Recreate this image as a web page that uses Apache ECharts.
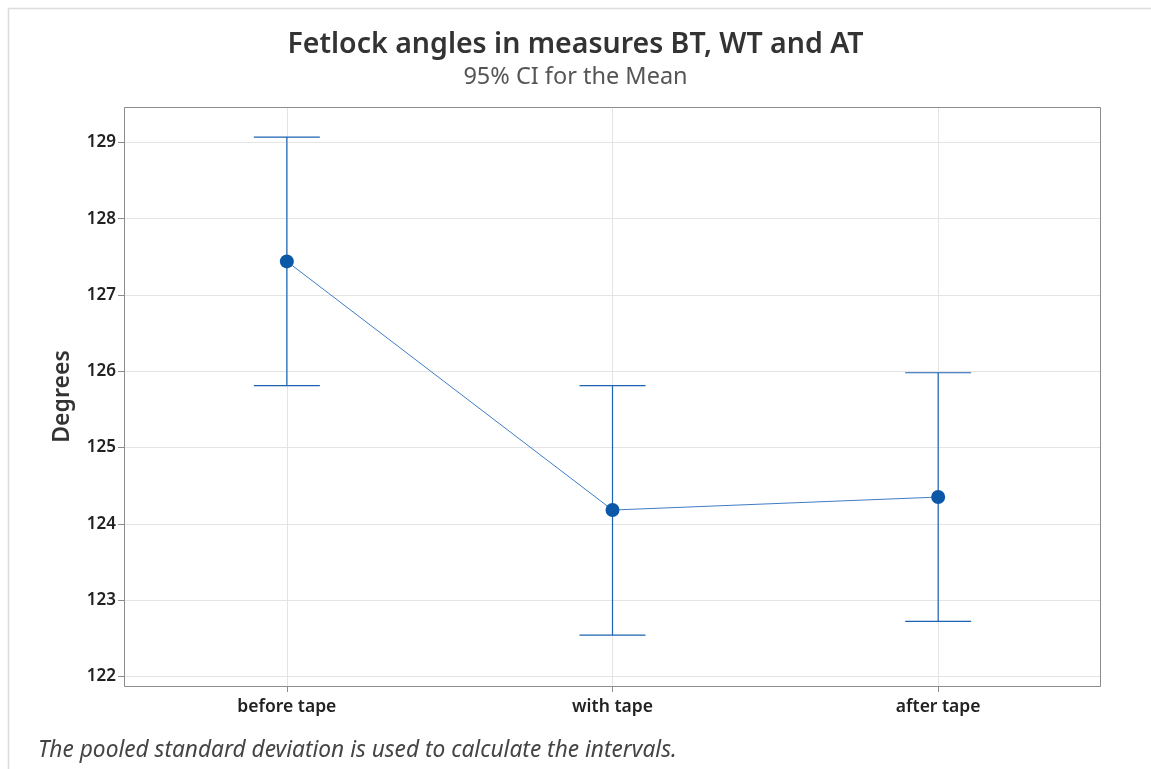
<!DOCTYPE html>
<html>
<head>
<meta charset="utf-8">
<script src="https://cdn.jsdelivr.net/npm/echarts@6/dist/echarts.min.js"></script>
<style>
html,body{margin:0;padding:0;background:#fff;}
#chart{width:1151px;height:769px;}
</style>
</head>
<body>
<div id="chart"></div>
<script>
const categories = ['before tape', 'with tape', 'after tape'];
const means = [127.44, 124.18, 124.35];
const ciLower = [125.81, 122.54, 122.72];
const ciUpper = [129.07, 125.81, 125.98];
const yTicks = [122, 123, 124, 125, 126, 127, 128, 129];
const xTicks = [0, 1, 2];

const chart = echarts.init(document.getElementById('chart'));
const blue = '#0B57A8';
const errData = categories.map((c, i) => [i, ciLower[i], ciUpper[i]]);
const meanData = categories.map((c, i) => [i, means[i]]);

chart.setOption({
  backgroundColor: '#fff',
  animation: false,
  title: [
    {
      text: 'Fetlock angles in measures BT, WT and AT',
      left: 'center', top: 25,
      textStyle: { fontFamily: 'Noto Sans', fontSize: 28.5, fontWeight: 600, color: '#333' }
    },
    {
      text: '95% CI for the Mean',
      left: 'center', top: 60,
      textStyle: { fontFamily: 'Noto Sans', fontSize: 23.5, fontWeight: 'normal', color: '#555' }
    },
    {
      text: 'The pooled standard deviation is used to calculate the intervals.',
      left: 33, top: 734,
      textStyle: { fontFamily: 'Noto Sans', fontSize: 22.7, fontStyle: 'italic', fontWeight: 'normal', color: '#444' }
    }
  ],
  graphic: [
    { type: 'line', shape: { x1: 8, y1: 8.5, x2: 1151, y2: 8.5 }, style: { stroke: '#dcdcdc', lineWidth: 1.5 }, silent: true },
    { type: 'line', shape: { x1: 8.5, y1: 8, x2: 8.5, y2: 769 }, style: { stroke: '#dcdcdc', lineWidth: 1.5 }, silent: true },
    { type: 'rect', shape: { x: 124.5, y: 107.5, width: 976, height: 579 }, style: { fill: 'none', stroke: '#8c8c8c', lineWidth: 1 }, silent: true, z: 10 }
  ],
  grid: { left: 124, top: 107, right: 50, bottom: 83, containLabel: false },
  xAxis: {
    type: 'value',
    min: -0.5,
    max: 2.5,
    axisLine: { show: false, onZero: false },
    axisTick: { show: true, length: 6, customValues: xTicks, lineStyle: { color: '#8c8c8c' } },
    axisLabel: {
      fontFamily: 'Noto Sans', fontSize: 17.5, fontWeight: 600, color: '#222', margin: 12,
      customValues: xTicks,
      formatter: function (v) { return categories[Math.round(v)] || ''; }
    },
    splitLine: { show: true, lineStyle: { color: '#e4e4e4', width: 1 } }
  },
  yAxis: {
    type: 'value',
    min: 121.873,
    max: 129.464,
    name: 'Degrees',
    nameLocation: 'middle',
    nameGap: 50,
    nameRotate: 90,
    nameTextStyle: { fontFamily: 'Noto Sans', fontSize: 23, fontWeight: 600, color: '#333' },
    axisLine: { show: false, onZero: false },
    axisTick: { show: true, length: 6, customValues: yTicks, lineStyle: { color: '#8c8c8c' } },
    axisLabel: { fontFamily: 'Noto Sans', fontSize: 17, fontWeight: 600, color: '#222', margin: 8, customValues: yTicks },
    splitLine: { show: true, lineStyle: { color: '#e4e4e4', width: 1 } }
  },
  series: [
    {
      type: 'custom',
      data: errData,
      z: 3,
      renderItem: function (params, api) {
        const x = api.value(0);
        const lo = api.coord([x, api.value(1)]);
        const hi = api.coord([x, api.value(2)]);
        const hw = 33;
        const st = { stroke: '#1B62B2', lineWidth: 1.2 };
        return {
          type: 'group',
          children: [
            { type: 'line', shape: { x1: lo[0], y1: lo[1], x2: hi[0], y2: hi[1] }, style: st },
            { type: 'line', shape: { x1: lo[0] - hw, y1: lo[1], x2: lo[0] + hw, y2: lo[1] }, style: st },
            { type: 'line', shape: { x1: hi[0] - hw, y1: hi[1], x2: hi[0] + hw, y2: hi[1] }, style: st }
          ]
        };
      }
    },
    {
      type: 'line',
      data: meanData,
      z: 4,
      symbol: 'circle',
      symbolSize: 14,
      lineStyle: { color: '#3E7DC4', width: 1 },
      itemStyle: { color: blue, borderWidth: 0 }
    }
  ]
});
</script>
</body>
</html>
